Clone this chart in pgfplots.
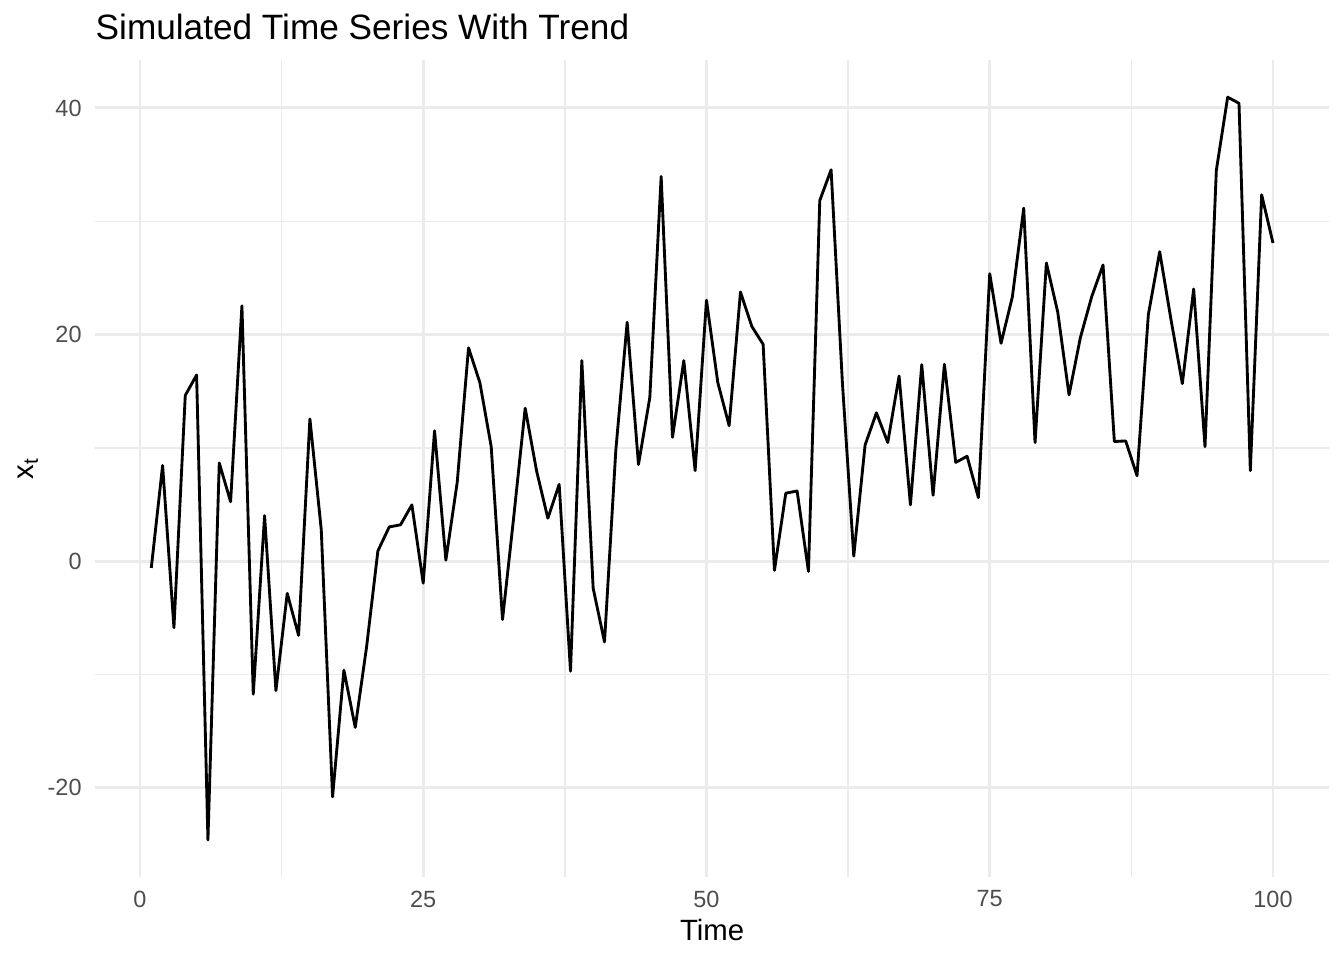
\documentclass[border=0pt]{standalone}
\usepackage{fontspec}
\setmainfont{Liberation Sans}
\usepackage{pgfplots}
\usepackage{pgfplotstable}
\pgfplotsset{compat=1.18}
\definecolor{gridgray}{HTML}{EBEBEB}
\definecolor{ticktext}{HTML}{4D4D4D}
\pgfplotstableread{
t v
1 -0.6
2 8.44
3 -5.87
4 14.63
5 16.43
6 -24.6
7 8.67
8 5.24
9 22.53
10 -11.74
11 4.02
12 -11.42
13 -2.84
14 -6.55
15 12.55
16 2.80
17 -20.8
18 -9.62
19 -14.67
20 -7.58
21 0.90
22 3.02
23 3.21
24 4.97
25 -1.94
26 11.51
27 0.09
28 6.95
29 18.83
30 15.76
31 10.11
32 -5.15
33 4.0
34 13.5
35 7.99
36 3.79
37 6.77
38 -9.71
39 17.70
40 -2.39
41 -7.13
42 9.80
43 21.08
44 8.53
45 14.45
46 33.95
47 10.93
48 17.70
49 7.99
50 23.03
51 15.76
52 11.96
53 23.75
54 20.72
55 19.14
56 -0.81
57 6.00
58 6.19
59 -0.90
60 31.83
61 34.54
62 15.7
63 0.45
64 10.25
65 13.09
66 10.47
67 16.34
68 4.97
69 17.34
70 5.82
71 17.38
72 8.71
73 9.26
74 5.60
75 25.37
76 19.23
77 23.34
78 31.15
79 10.47
80 26.32
81 21.99
82 14.67
83 19.73
84 23.34
85 26.14
86 10.56
87 10.61
88 7.54
89 21.76
90 27.31
91 21.31
92 15.67
93 24.02
94 10.11
95 34.49
96 40.95
97 40.41
98 7.99
99 32.33
100 28.08
}\series
\begin{document}
\begin{tikzpicture}
\path[use as bounding box] (0,0) rectangle (504pt,360pt);
\begin{axis}[
  at={(35.7pt,31.1pt)}, anchor=south west,
  scale only axis,
  width=462.7pt, height=306.4pt,
  xmin=-3.95, xmax=104.95,
  ymin=-27.88, ymax=44.23,
  axis line style={draw=none},
  major tick length=0pt, minor tick length=0pt,
  xtick={0,25,50,75,100},
  xticklabels={0,25,50,75,100},
  ytick={-20,0,20,40},
  yticklabels={-20,0,20,40},
  minor xtick={12.5,37.5,62.5,87.5},
  minor ytick={-10,10,30},
  grid=both,
  major grid style={draw=gridgray, line width=1.07pt},
  minor grid style={draw=gridgray, line width=0.53pt},
  tick label style={font=\fontsize{8.8pt}{10pt}\selectfont, text=ticktext, inner sep=0pt},
  xticklabel style={anchor=north, yshift=-4.9pt},
  yticklabel style={anchor=east, xshift=-4.9pt},
  xlabel={Time},
  ylabel={x\textsubscript{t}},
  label style={font=\fontsize{11pt}{13pt}\selectfont, inner sep=0pt},
  xlabel style={at={(axis description cs:0.5,0)}, anchor=center, yshift=-19.9pt},
  ylabel style={at={(axis description cs:0,0.5)}, anchor=center, yshift=25.2pt},
  title={Simulated Time Series With Trend},
  title style={font=\fontsize{13.2pt}{15pt}\selectfont, at={(axis description cs:0,1)}, anchor=base west, inner sep=0pt, yshift=1.5pt},
  clip=false,
]
\addplot[black, line width=1.07pt, line join=round, mark=none] table[x=t, y=v] {\series};
\end{axis}
\end{tikzpicture}
\end{document}
